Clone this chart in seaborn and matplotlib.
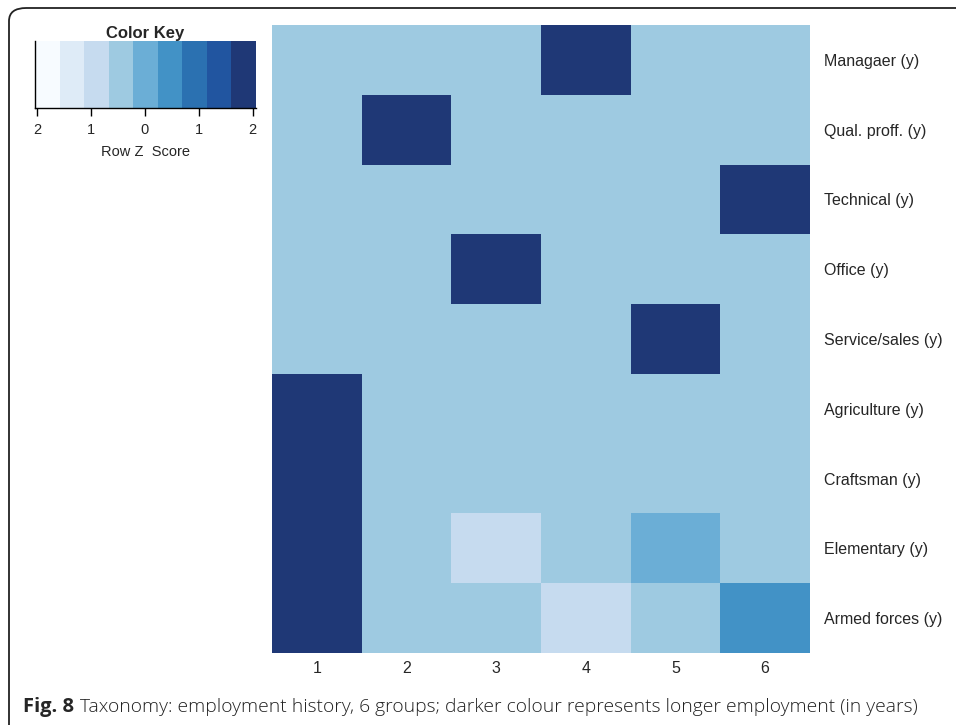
import numpy as np
import pandas as pd
import matplotlib
matplotlib.use("Agg")
import matplotlib.pyplot as plt
from matplotlib.colors import ListedColormap, BoundaryNorm
from matplotlib.patches import FancyBboxPatch
import seaborn as sns

# Row z-scores of years spent in each occupation, per taxonomy group
groups = ["1", "2", "3", "4", "5", "6"]
occupations = ["Managaer (y)", "Qual. proff. (y)", "Technical (y)", "Office (y)",
               "Service/sales (y)", "Agriculture (y)", "Craftsman (y)",
               "Elementary (y)", "Armed forces (y)"]
managaer = [-0.41, -0.41, -0.41, 2.04, -0.41, -0.41]
qual_proff = [-0.41, 2.04, -0.41, -0.41, -0.41, -0.41]
technical = [-0.41, -0.41, -0.41, -0.41, -0.41, 2.04]
office = [-0.41, -0.41, 2.04, -0.41, -0.41, -0.41]
service_sales = [-0.41, -0.41, -0.41, -0.41, 2.04, -0.41]
agriculture = [2.04, -0.41, -0.41, -0.41, -0.41, -0.41]
craftsman = [2.04, -0.41, -0.41, -0.41, -0.41, -0.41]
elementary = [1.95, -0.40, -0.90, -0.40, 0.05, -0.30]
armed_forces = [1.85, -0.45, -0.45, -0.90, -0.45, 0.40]

key_ticks = [-2, -1, 0, 1, 2]
key_tick_labels = ["2", "1", "0", "1", "2"]

W, H, DPI = 956, 725, 100
SANS = ["Liberation Sans", "DejaVu Sans"]
CAPTION = ["Open Sans", "DejaVu Sans"]

df = pd.DataFrame([managaer, qual_proff, technical, office, service_sales,
                   agriculture, craftsman, elementary, armed_forces],
                  index=occupations, columns=groups)

palette = ["#F7FBFF", "#DEEBF7", "#C6DBEF", "#9ECAE1", "#6BAED6",
           "#4292C6", "#2B71B1", "#2155A0", "#1F3876"]
cmap = ListedColormap(palette)
bounds = np.linspace(-2.04, 2.06, len(palette) + 1)
norm = BoundaryNorm(bounds, cmap.N)

sns.set_theme(style="white")
plt.rcParams["font.family"] = SANS

fig = plt.figure(figsize=(W / DPI, H / DPI), dpi=DPI)


def fx(px):
    return px / W


def fy(py):
    return 1 - py / H


# rounded frame around the panel
frame = FancyBboxPatch((fx(9), fy(760)), fx(1000), fy(8) - fy(760),
                       boxstyle="round,pad=0,rounding_size=0.018",
                       transform=fig.transFigure, fill=False,
                       edgecolor="#222222", linewidth=1.3, clip_on=False)
fig.patches.append(frame)

ax = fig.add_axes([fx(272), fy(653), fx(810 - 272), fy(25) - fy(653)])
cax = fig.add_axes([fx(35), fy(108), fx(256 - 35), fy(41) - fy(108)])

sns.heatmap(df, ax=ax, cmap=cmap, norm=norm, cbar=True, cbar_ax=cax,
            cbar_kws={"orientation": "horizontal", "ticks": key_ticks},
            linewidths=0, square=False)

# row labels on the right, column labels below
ax.yaxis.tick_right()
ax.set_yticklabels(occupations, rotation=0, fontsize=11.5, ha="left",
                   family=SANS)
ax.set_xticklabels(groups, rotation=0, fontsize=11.5, family=SANS)
ax.tick_params(axis="y", length=0, pad=10)
ax.tick_params(axis="x", length=0, pad=6)
ax.set_xlabel("")
ax.set_ylabel("")
for s in ax.spines.values():
    s.set_visible(False)

# colour key
cbar = ax.collections[0].colorbar
cbar.outline.set_visible(False)
cbar.minorticks_off()
cbar.set_ticks(key_ticks)
cbar.set_ticklabels(key_tick_labels)
cax.xaxis.set_minor_locator(matplotlib.ticker.NullLocator())
cax.tick_params(axis="x", length=6, width=1, color="black", pad=4.5,
                labelsize=10.5, bottom=True, direction="out")
for lbl in cax.get_xticklabels():
    lbl.set_family(SANS)
for side in ("left", "bottom"):
    cax.spines[side].set_visible(True)
    cax.spines[side].set_color("black")
    cax.spines[side].set_linewidth(1.0)
cax.set_title("Color Key", fontsize=12, fontweight="bold", pad=-1,
              family=SANS)
cax.set_xlabel("Row Z  Score", fontsize=10.5, labelpad=6, family=SANS)

# figure caption: bold figure number followed by the description
num = fig.text(fx(23), fy(707), "Fig. 8", fontsize=14.5, fontweight="bold",
               family=CAPTION, va="center", ha="left")
desc = fig.text(fx(80), fy(707),
                "Taxonomy: employment history, 6 groups; darker colour "
                "represents longer employment (in years)",
                fontsize=13, family=CAPTION, fontweight="light",
                va="center", ha="left", color="#222222")
fig.canvas.draw()
renderer = fig.canvas.get_renderer()
span = desc.get_window_extent(renderer).width
desc.set_fontsize(13 * (912 - 80) / span)

fig.savefig("out.png", dpi=DPI)
